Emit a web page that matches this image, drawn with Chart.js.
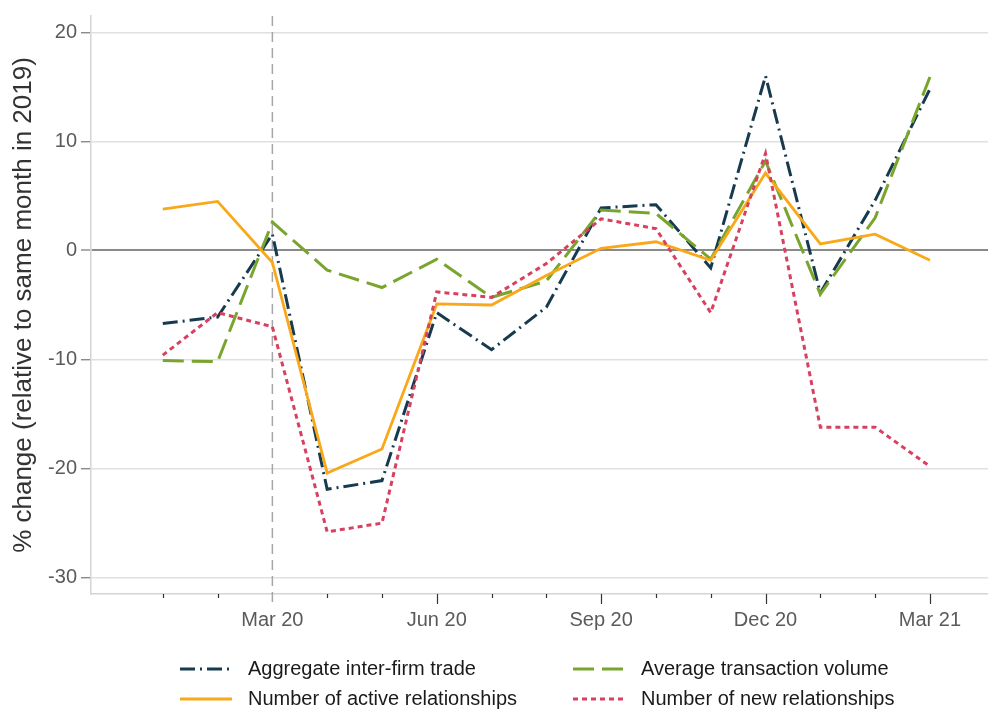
<!DOCTYPE html>
<html>
<head>
<meta charset="utf-8">
<script src="https://cdn.jsdelivr.net/npm/chart.js@4/dist/chart.umd.min.js"></script>
<style>
  html, body { margin: 0; padding: 0; background: #fff; }
  #wrap { width: 988px; height: 709px; position: relative; }
</style>
</head>
<body>
<div id="wrap"><canvas id="c" width="988" height="709"></canvas></div>
<script>
// Months covered, Jan 2020 to Mar 2021
const months = ['Jan 20','Feb 20','Mar 20','Apr 20','May 20','Jun 20','Jul 20','Aug 20',
                'Sep 20','Oct 20','Nov 20','Dec 20','Jan 21','Feb 21','Mar 21'];
// Months that get a text label on the x axis
const labelledMonths = ['Mar 20','Jun 20','Sep 20','Dec 20','Mar 21'];
// Y axis ticks
const yTicks = [-30, -20, -10, 0, 10, 20];
// Month marked with the vertical reference line
const markerMonth = 'Mar 20';

// % change relative to the same month in 2019
const aggregateTrade = [-6.7, -6.1, 1.5, -21.9, -21.1, -5.7, -9.1, -5.2, 3.9, 4.2, -1.6, 16.0, -3.9, 4.6, 14.8];
const avgVolume      = [-10.1, -10.2, 2.6, -1.8, -3.4, -0.8, -4.3, -2.8, 3.7, 3.4, -0.8, 8.2, -4.0, 3.0, 15.9];
const activeRel      = [3.8, 4.5, -1.1, -20.4, -18.2, -4.9, -5.0, -2.3, 0.2, 0.8, -0.9, 7.1, 0.6, 1.5, -0.9];
const newRel         = [-9.6, -5.7, -7.0, -25.8, -25.0, -3.8, -4.3, -1.2, 2.9, 2.0, -5.7, 8.9, -16.2, -16.2, -19.8];

const FONT = "'Liberation Sans', Arial, sans-serif";
const toPoints = vals => vals.map((v, i) => ({ x: i, y: v }));

function series(label, vals, color, dash, width, order) {
  return {
    label, data: toPoints(vals), borderColor: color, backgroundColor: color,
    borderDash: dash, borderWidth: width, pointRadius: 0, fill: false,
    tension: 0, borderCapStyle: 'butt', borderJoinStyle: 'miter', order
  };
}

// Vertical marker line, x-axis tick marks and a two-column legend
const extras = {
  id: 'extras',
  beforeDatasetsDraw(chart) {
    const { ctx, chartArea } = chart;
    const xs = chart.scales.x;
    const px = xs.getPixelForValue(months.indexOf(markerMonth));
    ctx.save();
    ctx.strokeStyle = '#a6a6a6';
    ctx.lineWidth = 1.5;
    ctx.setLineDash([10, 6]);
    ctx.beginPath();
    ctx.moveTo(px, chartArea.top);
    ctx.lineTo(px, chartArea.bottom + 11);
    ctx.stroke();
    ctx.restore();
  },
  afterDraw(chart) {
    const { ctx, chartArea } = chart;
    const xs = chart.scales.x;
    ctx.save();
    // tick marks: long under labelled months, short elsewhere
    ctx.strokeStyle = '#333';
    ctx.lineWidth = 1.2;
    months.forEach((m, i) => {
      if (m === markerMonth) return;
      const px = Math.round(xs.getPixelForValue(i)) + 0.5;
      const len = labelledMonths.includes(m) ? 10 : 4;
      ctx.beginPath();
      ctx.moveTo(px, chartArea.bottom);
      ctx.lineTo(px, chartArea.bottom + len);
      ctx.stroke();
    });
    // legend
    const cols = [180, 573], rows = [669, 699], lineLen = 52, gap = 16;
    ctx.font = '20px ' + FONT;
    ctx.textBaseline = 'middle';
    ctx.fillStyle = '#1a1a1a';
    chart.data.datasets.forEach((ds, k) => {
      const x = cols[k % 2], y = rows[Math.floor(k / 2)];
      ctx.save();
      ctx.strokeStyle = ds.borderColor;
      ctx.lineWidth = ds.borderWidth;
      ctx.setLineDash(ds.borderDash || []);
      ctx.beginPath();
      ctx.moveTo(x, y);
      ctx.lineTo(x + lineLen, y);
      ctx.stroke();
      ctx.restore();
      ctx.fillText(ds.label, x + lineLen + gap, y);
    });
    ctx.restore();
  }
};

new Chart(document.getElementById('c'), {
  type: 'line',
  data: {
    datasets: [
      series('Aggregate inter-firm trade', aggregateTrade, '#163a4e', [15, 5, 2, 5], 3, 4),
      series('Average transaction volume', avgVolume, '#79a52e', [21, 8], 3, 3),
      series('Number of active relationships', activeRel, '#f9a81a', [], 2.8, 2),
      series('Number of new relationships', newRel, '#d8405f', [5, 4], 3, 1)
    ]
  },
  options: {
    responsive: false,
    animation: false,
    events: [],
    layout: { padding: { top: 15, right: 0, bottom: 0, left: 0 } },
    plugins: { legend: { display: false }, tooltip: { enabled: false } },
    scales: {
      x: {
        type: 'linear',
        min: -1.31, max: 15.06,
        afterBuildTicks: s => { s.ticks = months.map((m, i) => ({ value: i })); },
        afterFit: s => { s.height = 115; },
        grid: { display: false },
        border: { display: true, color: '#d4d4d4', width: 1.5 },
        ticks: {
          autoSkip: false, maxRotation: 0, padding: 6,
          color: '#5a5a5a', font: { family: FONT, size: 20 },
          callback: v => labelledMonths.includes(months[v]) ? months[v] : ''
        }
      },
      y: {
        min: -31.5, max: 21.5,
        afterBuildTicks: s => { s.ticks = yTicks.map(v => ({ value: v })); },
        afterFit: s => { s.width = 91; },
        grid: {
          color: c => c.tick && c.tick.value === 0 ? '#8a8a8a' : '#e0e0e0',
          lineWidth: c => c.tick && c.tick.value === 0 ? 2 : 1.5,
          tickColor: '#777', tickLength: 10, tickWidth: 1.2
        },
        border: { display: true, color: '#d4d4d4', width: 1.5 },
        ticks: { padding: 4, color: '#5a5a5a', font: { family: FONT, size: 20 } },
        title: {
          display: true, text: '% change (relative to same month in 2019)',
          color: '#333', font: { family: FONT, size: 26 }, padding: { top: 8, bottom: 0 }
        }
      }
    }
  },
  plugins: [extras]
});
</script>
</body>
</html>
